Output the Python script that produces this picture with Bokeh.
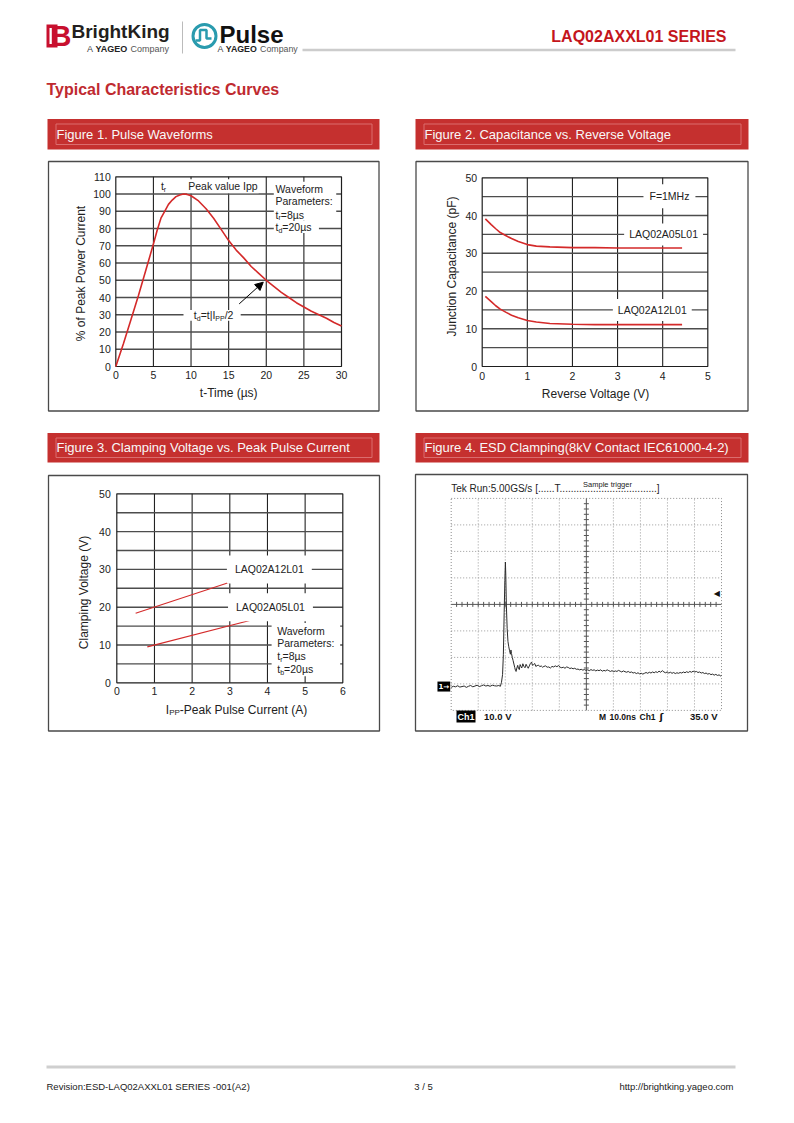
import numpy as np
from bokeh.plotting import figure
from bokeh.models import Range1d, LinearAxis, FixedTicker, Arrow, NormalHead
from bokeh.core.properties import value
from bokeh.embed import file_html
from bokeh.resources import INLINE

FONT = "Liberation Sans"

# ---------------- data ----------------
# Figure 1: 8/20 us pulse waveform
f1_t_us = [0, 1, 2, 3, 4, 5, 5.5, 6, 6.5, 7, 7.5, 8, 8.5, 9, 9.5, 10, 11, 12, 13, 14, 15,
           16, 17, 18, 19, 20, 21, 22, 23, 24, 25, 26, 27, 28, 29, 30]
f1_pct = [0, 13, 27, 41, 56, 71, 79, 86, 90, 94, 96.5, 98.5, 99.5, 100, 99.8, 99, 96, 91.5, 86, 79.5, 73,
          67.5, 63, 58, 54, 50, 46.5, 43, 40, 37, 34.5, 32, 30, 28, 25.5, 23.5]
f1_xticks = [0, 5, 10, 15, 20, 25, 30]
f1_xlabels = ["0", "5", "10", "15", "20", "25", "30"]
f1_yticks = [0, 10, 20, 30, 40, 50, 60, 70, 80, 90, 100, 110]
f1_ylabels = ["0", "10", "20", "30", "40", "50", "60", "70", "80", "90", "100", "110"]
f1_vgrid = [5, 10, 15, 20, 25]
f1_hgrid = [10, 20, 30, 40, 50, 60, 70, 80, 90, 100]

# Figure 2: capacitance vs reverse voltage
f2_vr = [0.07, 0.2, 0.3, 0.4, 0.52, 0.65, 0.8, 1.0, 1.2, 1.5, 2.0, 2.5, 3.0, 3.5, 4.0, 4.43]
f2_c_05 = [39.1, 37.6, 36.5, 35.5, 34.7, 33.9, 33.1, 32.3, 31.9, 31.7, 31.5, 31.5, 31.4, 31.4, 31.4, 31.4]
f2_c_12 = [18.6, 17.2, 16.1, 15.2, 14.4, 13.6, 12.9, 12.2, 11.8, 11.4, 11.2, 11.1, 11.1, 11.1, 11.1, 11.1]
f2_xticks = [0, 1, 2, 3, 4, 5]
f2_xlabels = ["0", "1", "2", "3", "4", "5"]
f2_yticks = [0, 10, 20, 30, 40, 50]
f2_ylabels = ["0", "10", "20", "30", "40", "50"]
f2_vgrid = [1, 2, 3, 4]
f2_hgrid = [5, 10, 15, 20, 25, 30, 35, 40, 45]

# Figure 3: clamping voltage vs peak pulse current
f3_ipp_12 = [0.50, 3.12]
f3_vc_12 = [18.4, 27.0]
f3_ipp_05 = [0.81, 3.58]
f3_vc_05 = [9.5, 16.6]
f3_xticks = [0, 1, 2, 3, 4, 5, 6]
f3_xlabels = ["0", "1", "2", "3", "4", "5", "6"]
f3_yticks = [0, 10, 20, 30, 40, 50]
f3_ylabels = ["0", "10", "20", "30", "40", "50"]
f3_vgrid = [1, 2, 3, 4, 5]
f3_hgrid = [5, 10, 15, 20, 25, 30, 35, 40, 45]

# Figure 4: ESD clamping oscillogram (ns, V above ground)
f4_t_ns = [0, 0.8, 1.6, 2.4, 3.2, 4.0, 4.8, 5.6, 6.4, 7.2, 8.0, 8.8, 9.6, 10.4, 11.2, 12.0, 12.8, 13.6,
           14.4, 15.2, 16.0, 16.8, 17.6, 18.2, 18.6, 19.0, 19.3, 19.6, 19.85, 20.05, 20.2, 20.4, 20.7,
           21.0, 21.3, 21.6, 21.9, 22.1, 22.3, 22.6, 22.9, 23.2, 23.5, 23.8, 24.0, 24.3, 24.6, 24.9,
           25.2, 25.5, 25.8, 26.1, 26.5, 26.9, 27.3, 27.7, 28.1, 28.5, 28.9, 29.3, 29.7, 30.1, 30.5,
           30.9, 31.3, 31.8, 32.3, 32.8, 33.3, 33.8, 34.3, 34.9, 35.5, 36.1, 36.7, 37.3, 37.9, 38.5,
           39.1, 39.7, 40.3, 40.9, 41.5, 42.1, 42.7, 43.3, 43.9, 44.5, 45.1, 45.7, 46.3, 46.9, 47.5,
           48.1, 48.7, 49.3, 49.9, 50.5, 51.1, 51.7, 52.3, 52.9, 53.5, 54.1, 54.7, 55.3, 55.9, 56.5,
           57.1, 57.7, 58.3, 58.9, 59.5, 60.1, 60.7, 61.3, 61.9, 62.5, 63.1, 63.7, 64.3, 64.9, 65.5,
           66.1, 66.7, 67.3, 67.9, 68.5, 69.1, 69.7, 70.3, 70.9, 71.5, 72.1, 72.7, 73.3, 73.9, 74.5,
           75.1, 75.7, 76.3, 76.9, 77.5, 78.1, 78.7, 79.3, 79.9, 80.5, 81.1, 81.7, 82.3, 82.9, 83.5,
           84.1, 84.7, 85.3, 85.9, 86.5, 87.1, 87.7, 88.3, 88.9, 89.5, 90.1, 90.7, 91.3, 91.9, 92.5,
           93.1, 93.7, 94.3, 94.9, 95.5, 96.1, 96.7, 97.3, 97.9, 98.5, 99.1, 99.7, 100]
f4_v = [-0.3, 0.1, -0.1, 0.3, -0.2, 0.0, 0.2, -0.3, 0.1, 0.4, -0.1, 0.2, 0.5, 0.0, 0.3, 0.6, 0.2, 0.4,
        0.1, 0.5, 0.3, 0.2, 0.4, 0.1, 1.6, 4.5, 12, 28, 40, 47, 42, 31, 22,
        17, 15, 13.5, 12.2, 13.8, 12.5, 11, 9.8, 8.5, 7.2, 6.0, 5.7, 7.0, 8.0, 6.8,
        6.4, 8.3, 7.6, 7.0, 8.6, 7.6, 7.1, 8.4, 7.6, 6.9, 7.8, 8.7, 9.2, 8.0, 8.3,
        8.7, 7.6, 7.9, 8.1, 7.5, 7.8, 7.3, 7.6, 7.8, 7.3, 7.4, 7.0, 7.6, 7.4, 7.8,
        7.5, 7.9, 7.3, 7.1, 7.3, 6.9, 7.4, 7.2, 6.8, 7.0, 6.7, 6.9, 6.5, 6.6, 6.3,
        6.5, 6.2, 6.4, 6.1, 6.3, 6.0, 6.4, 6.1, 6.3, 5.9, 6.2, 6.0, 6.3, 5.8, 6.1,
        5.9, 6.3, 6.0, 5.7, 6.0, 5.6, 5.9, 5.7, 6.1, 5.8, 5.5, 5.9, 5.6, 5.4, 5.7,
        5.3, 5.5, 5.1, 5.3, 4.9, 5.2, 4.8, 5.0, 4.7, 5.0, 5.3, 5.0, 5.4, 5.1, 5.5,
        5.2, 5.6, 5.3, 5.8, 5.4, 6.0, 5.5, 5.2, 5.5, 5.1, 5.4, 5.0, 5.3, 4.9, 5.2,
        5.0, 5.3, 5.1, 5.5, 5.2, 5.6, 5.3, 5.7, 5.4, 5.8, 5.5, 5.7, 5.3, 5.5, 5.1,
        5.3, 4.9, 5.1, 4.7, 4.9, 4.5, 4.7, 4.3, 4.6, 4.2, 4.4, 4.0, 4.2]
f4_vgrid = [10, 20, 30, 40, 60, 70, 80, 90]
f4_hgrid = [1, 11, 21, 41, 51, 61]
f4_trigger_v = 35.0

# ---------------- page canvas (page pixel coordinates) ----------------
PX0, PX1, PYB, PYT = 0, 778, 1107, 0
p = figure(width=778, height=1107, x_range=Range1d(PX0, PX1), y_range=Range1d(PYB, PYT),
           x_axis_type=None, y_axis_type=None, output_backend="svg", toolbar_location=None,
           min_border=0, outline_line_color=None, background_fill_color="white",
           border_fill_color="white")

AW = {' ': .278, '%': .889, '(': .333, ')': .333, '-': .333, '.': .278, '/': .278, ':': .278,
      '=': .584, '|': .26, 'µ': .576, 'A': .667, 'B': .667, 'C': .722, 'D': .722, 'E': .667,
      'F': .611, 'G': .778, 'I': .278, 'K': .667, 'L': .556, 'M': .833, 'P': .667, 'Q': .778,
      'R': .722, 'S': .667, 'T': .611, 'V': .667, 'W': .944, 'X': .667, 'Y': .667, 'a': .556,
      'b': .556, 'c': .5, 'd': .556, 'e': .556, 'f': .278, 'g': .556, 'h': .556, 'i': .222,
      'k': .5, 'l': .222, 'm': .833, 'n': .556, 'o': .556, 'p': .556, 'r': .333, 's': .5,
      't': .278, 'u': .556, 'v': .5, 'w': .722, 'y': .5}


def tw(s, size):
    return sum(AW.get(c, .556) for c in s) * size


def txt(x, y, s, size, color="#222222", bold=False, align="left", baseline="middle",
        angle=0.0, font=FONT, xoff=0, yoff=0, rn=None, bg=None, pad=0):
    kw = dict(rn or {})
    if bg is not None:
        kw.update(background_fill_color=bg, padding=pad)
    p.text(x=[x], y=[y], text=[s], text_font=value(font), text_font_size=f"{size}px",
           text_font_style="bold" if bold else "normal", text_color=color, text_align=align,
           text_baseline=baseline, angle=angle, x_offset=xoff, y_offset=yoff, **kw)


SUB = 3


def rich(x, y, parts, size=10.5, sub_size=7.0, align="left", rn=None, color="#222222"):
    widths = [tw(s, sub_size if sub else size) for s, sub in parts]
    off = -sum(widths) / 2 if align == "center" else 0
    for (s, sub), w in zip(parts, widths):
        txt(x, y, s, sub_size if sub else size, color=color, xoff=off,
            yoff=SUB if sub else 0, rn=rn)
        off += w


def chart(name, xlim, ylim, pxl, pxr, pyb, pyt):
    x0, x1 = xlim
    y0, y1 = ylim
    kx = (x1 - x0) / (pxr - pxl)
    ky = (y1 - y0) / (pyb - pyt)
    p.extra_x_ranges[name] = Range1d(x0 - (pxl - PX0) * kx, x1 + (PX1 - pxr) * kx)
    p.extra_y_ranges[name] = Range1d(y0 - (PYB - pyb) * ky, y1 + (pyt - PYT) * ky)
    return dict(x_range_name=name, y_range_name=name)


def axes(rn, xlim, ylim, xticks, xlabels, yticks, ylabels, xs=4, ys=5):
    xa = LinearAxis(fixed_location=ylim[0], bounds=tuple(xlim), ticker=FixedTicker(ticks=xticks),
                    major_label_overrides=dict(zip(xticks, xlabels)), major_label_standoff=xs, **rn)
    ya = LinearAxis(fixed_location=xlim[0], bounds=tuple(ylim), ticker=FixedTicker(ticks=yticks),
                    major_label_overrides=dict(zip(yticks, ylabels)), major_label_standoff=ys, **rn)
    for ax in (xa, ya):
        ax.axis_line_color = None
        ax.major_tick_line_color = None
        ax.minor_tick_line_color = None
        ax.major_tick_in = 0
        ax.major_tick_out = 0
        ax.minor_tick_in = 0
        ax.minor_tick_out = 0
        ax.major_label_text_font = FONT
        ax.major_label_text_font_size = "10.5px"
        ax.major_label_text_color = "#222222"
    p.add_layout(xa, "below")
    p.add_layout(ya, "left")


def grid(rn, xlim, ylim, vx, hy, vcol="#222222", hcol="#4d4d4d", vw=1.1, hw=1.4, dash="solid"):
    if vx:
        p.segment(x0=vx, x1=vx, y0=[ylim[0]] * len(vx), y1=[ylim[1]] * len(vx),
                  line_color=vcol, line_width=vw, line_dash=dash, **rn)
    if hy:
        p.segment(x0=[xlim[0]] * len(hy), x1=[xlim[1]] * len(hy), y0=hy, y1=hy,
                  line_color=hcol, line_width=hw, line_dash=dash, **rn)


def frame(rn, xlim, ylim, color="#1e1e1e", width=1.2, dash="solid"):
    p.quad(left=[xlim[0]], right=[xlim[1]], bottom=[ylim[0]], top=[ylim[1]],
           fill_color=None, line_color=color, line_width=width, line_dash=dash, **rn)


RED = "#C5302F"


def panel(bx0, bx1, by0, by1, title, fx0, fx1, fy0, fy1):
    p.quad(left=[bx0], right=[bx1], top=[by0], bottom=[by1], fill_color=RED, line_color=None)
    p.quad(left=[bx0 + 8.5], right=[bx1 - 7.5], top=[by0 + 5], bottom=[by1 - 5],
           fill_color=None, line_color="#DB6D6E", line_width=1)
    txt(bx0 + 9, (by0 + by1) / 2, title, 13, color="#F8F8F8")
    p.quad(left=[fx0], right=[fx1], top=[fy0], bottom=[fy1], fill_color=None,
           line_color="#4a4a4a", line_width=1.3)


# ---------------- page header ----------------
p.quad(left=[46], right=[57], top=[24], bottom=[47], fill_color="#C8102E", line_color=None)
txt(50, 35.5, "B", 29, color="#C8102E", bold=True)
p.quad(left=[49], right=[51.3], top=[27.5], bottom=[43.5], fill_color="white", line_color=None)
txt(71, 30.5, "BrightKing", 19, color="#231F20", bold=True)
txt(86.5, 48.5, "A", 9, color="#444444")
txt(86.5 + tw("A ", 9), 48.5, "YAGEO", 9, color="#222222", bold=True)
txt(86.5 + tw("A ", 9) + 35, 48.5, "Company", 9, color="#555555")
p.line(x=[182, 182], y=[21, 53], line_color="#BBBBBB", line_width=1)
p.scatter(x=[204], y=[35.5], size=23, marker="circle", fill_color=None, line_color="#2A9BAE",
          line_width=3)
p.line(x=[195, 199.5, 199.5, 206, 206, 211], y=[40, 40, 29.5, 29.5, 38, 38],
       line_color="#2A9BAE", line_width=2.5)
txt(219, 34.3, "Pulse", 24, color="#111111", bold=True)
txt(217, 48, "A", 8.8, color="#444444")
txt(217 + tw("A ", 8.8), 48, "YAGEO", 8.8, color="#222222", bold=True)
txt(217 + tw("A ", 8.8) + 34.3, 48, "Company", 8.8, color="#555555")
p.line(x=[302, 735], y=[49.5, 49.5], line_color="#CCCCCC", line_width=2.5)
txt(726, 35.5, "LAQ02AXXL01 SERIES", 16, color="#C4161C", bold=True, align="right")
txt(46, 88.5, "Typical Characteristics Curves", 16, color="#BF2A30", bold=True)

# ---------------- panels ----------------
panel(47, 379, 118.5, 149, "Figure 1. Pulse Waveforms", 48, 378.5, 161, 410.5)
panel(415, 748, 118.5, 149, "Figure 2. Capacitance vs. Reverse Voltage", 415.5, 747.5, 161, 410.5)
panel(47, 379, 432.5, 462, "Figure 3. Clamping Voltage vs. Peak Pulse Current", 48, 379, 475, 730.5)
panel(415, 748, 432.5, 462, "Figure 4. ESD Clamping(8kV Contact IEC61000-4-2)", 415, 747, 474, 730.5)

# ---------------- Figure 1 ----------------
X1, Y1 = (0, 30), (0, 110)
rn1 = chart("c1", X1, Y1, 115.3, 341, 366, 176.3)
grid(rn1, X1, Y1, f1_vgrid, f1_hgrid)
frame(rn1, X1, Y1)
p.line(x=f1_t_us, y=f1_pct, line_color="#D42A2A", line_width=1.6, **rn1)
axes(rn1, X1, Y1, f1_xticks, f1_xlabels, f1_yticks, f1_ylabels, xs=4, ys=5)
rich(6.0, 104.5, [("t", False), ("r", True)], rn=rn1)
txt(9.49, 104.5, "Peak value Ipp", 10.5, rn=rn1, bg="white", pad=1)
p.quad(left=[21.0], right=[29.3], bottom=[84.6], top=[107.2], fill_color="white", line_color=None, **rn1)
p.quad(left=[21.0], right=[27.0], bottom=[77.4], top=[84.7], fill_color="white", line_color=None, **rn1)
txt(21.23, 103.0, "Waveform", 10.5, rn=rn1)
txt(21.23, 95.7, "Parameters:", 10.5, rn=rn1)
rich(21.23, 88.1, [("t", False), ("r", True), ("=8µs", False)], rn=rn1)
rich(21.23, 80.8, [("t", False), ("d", True), ("=20µs", False)], rn=rn1)
p.quad(left=[9.0], right=[16.6], bottom=[26.6], top=[32.8], fill_color="white", line_color=None, **rn1)
rich(10.37, 29.6, [("t", False), ("d", True), ("=t|I", False), ("PP", True), ("/2", False)], rn=rn1)
p.add_layout(Arrow(end=NormalHead(size=8, fill_color="black", line_color="black"),
                   x_start=16.4, y_start=36.3, x_end=19.6, y_end=48.9,
                   line_color="black", line_width=1, **rn1))
txt(80.7, 273, "% of Peak Power Current", 12, align="center", angle=np.pi / 2)
txt(228.2, 392.7, "t-Time (µs)", 12, align="center")

# ---------------- Figure 2 ----------------
X2, Y2 = (0, 5), (0, 50)
rn2 = chart("c2", X2, Y2, 481.7, 707.3, 366, 177.3)
grid(rn2, X2, Y2, f2_vgrid, f2_hgrid)
frame(rn2, X2, Y2)
p.line(x=f2_vr, y=f2_c_05, line_color="#D42A2A", line_width=1.6, **rn2)
p.line(x=f2_vr, y=f2_c_12, line_color="#D42A2A", line_width=1.6, **rn2)
axes(rn2, X2, Y2, f2_xticks, f2_xlabels, f2_yticks, f2_ylabels, xs=5, ys=5)
txt(4.15, 45.1, "F=1MHz", 10.5, align="center", rn=rn2, bg="white", pad=6)
txt(4.02, 35, "LAQ02A05L01", 10.5, align="center", rn=rn2, bg="white", pad=5)
txt(3.77, 15, "LAQ02A12L01", 10.5, align="center", rn=rn2, bg="white", pad=5)
txt(451.7, 266, "Junction Capacitance (pF)", 12, align="center", angle=np.pi / 2)
txt(595, 393.7, "Reverse Voltage (V)", 12, align="center")

# ---------------- Figure 3 ----------------
X3, Y3 = (0, 6), (0, 50)
rn3 = chart("c3", X3, Y3, 116.3, 342.3, 682.3, 493.3)
grid(rn3, X3, Y3, f3_vgrid, f3_hgrid)
frame(rn3, X3, Y3)
p.line(x=f3_ipp_12, y=f3_vc_12, line_color="#D42A2A", line_width=1.1, **rn3)
p.line(x=f3_ipp_05, y=f3_vc_05, line_color="#D42A2A", line_width=1.1, **rn3)
axes(rn3, X3, Y3, f3_xticks, f3_xlabels, f3_yticks, f3_ylabels, xs=4, ys=6)
txt(4.05, 30, "LAQ02A12L01", 10.5, align="center", rn=rn3, bg="white", pad=8)
txt(4.08, 20, "LAQ02A05L01", 10.5, align="center", rn=rn3, bg="white", pad=8)
p.quad(left=[4.11], right=[5.93], bottom=[1.7], top=[15.8], fill_color="white", line_color=None, **rn3)
txt(4.26, 13.8, "Waveform", 10.5, rn=rn3)
txt(4.26, 10.5, "Parameters:", 10.5, rn=rn3)
rich(4.26, 7.0, [("t", False), ("r", True), ("=8µs", False)], rn=rn3)
rich(4.26, 3.6, [("t", False), ("b", True), ("=20µs", False)], rn=rn3)
txt(83.7, 592, "Clamping Voltage (V)", 12, align="center", angle=np.pi / 2)
rich(165.3, 709.3, [("I", False), ("PP", True), ("-Peak Pulse Current (A)", False)], size=12, sub_size=8)

# ---------------- Figure 4 (oscillogram) ----------------
X4, Y4 = (0, 100), (-9, 71)
rn4 = chart("c4", X4, Y4, 450.7, 721, 709.9, 497.9)
grid(rn4, X4, Y4, f4_vgrid, f4_hgrid, vcol="#9a9a9a", hcol="#9a9a9a", vw=1, hw=1, dash="1 2")
frame(rn4, X4, Y4, color="#8c8c8c", width=1, dash="1 2")
grid(rn4, X4, Y4, [50], [31], vcol="#555555", hcol="#555555", vw=1, hw=1)
minor_x = [v for v in np.arange(2, 100, 2) if v != 50]
minor_y = [v for v in np.arange(-7, 71, 2) if v != 31]
p.scatter(x=minor_x, y=[31] * len(minor_x), marker="dash", angle=np.pi / 2, size=5,
          line_color="#555555", line_width=1, **rn4)
p.scatter(x=[50] * len(minor_y), y=minor_y, marker="dash", size=5,
          line_color="#555555", line_width=1, **rn4)
p.line(x=f4_t_ns, y=f4_v, line_color="#2b2b2b", line_width=1, **rn4)
txt(0, 0, "1→", 7, color="white", bold=True, align="right", font="DejaVu Sans", xoff=-1,
    rn=rn4, bg="black", pad=1)
txt(98.3, f4_trigger_v, "◀", 8, color="#111111", align="center", font="DejaVu Sans", rn=rn4)
txt(450.7, 488, "Tek Run:5.00GS/s [......T...................................]", 10)
txt(607, 483.5, "Sample trigger", 7.5, align="center")
txt(456, 716, "Ch1", 9, color="white", bold=True, bg="black", pad=1)
txt(483.5, 716, "10.0 V", 9.5, color="#111111", bold=True)
txt(598.5, 716, "M", 8.5, color="#111111", bold=True)
txt(609, 716, "10.0ns", 8.5, color="#111111", bold=True)
txt(639, 716, "Ch1", 8.5, color="#111111", bold=True)
txt(659, 716, "ʃ", 9.5, color="#111111", bold=True, font="DejaVu Sans")
txt(717, 716, "35.0 V", 9.5, color="#111111", bold=True, align="right")

# ---------------- footer ----------------
p.line(x=[46, 735], y=[1066.5, 1066.5], line_color="#CFCFCF", line_width=3)
txt(46, 1086, "Revision:ESD-LAQ02AXXL01 SERIES -001(A2)", 9.5)
txt(423, 1086, "3 / 5", 9.5, align="center")
txt(733, 1086, "http://brightking.yageo.com", 9.5, align="right")

open("out.html", "w").write(file_html(p, INLINE))
